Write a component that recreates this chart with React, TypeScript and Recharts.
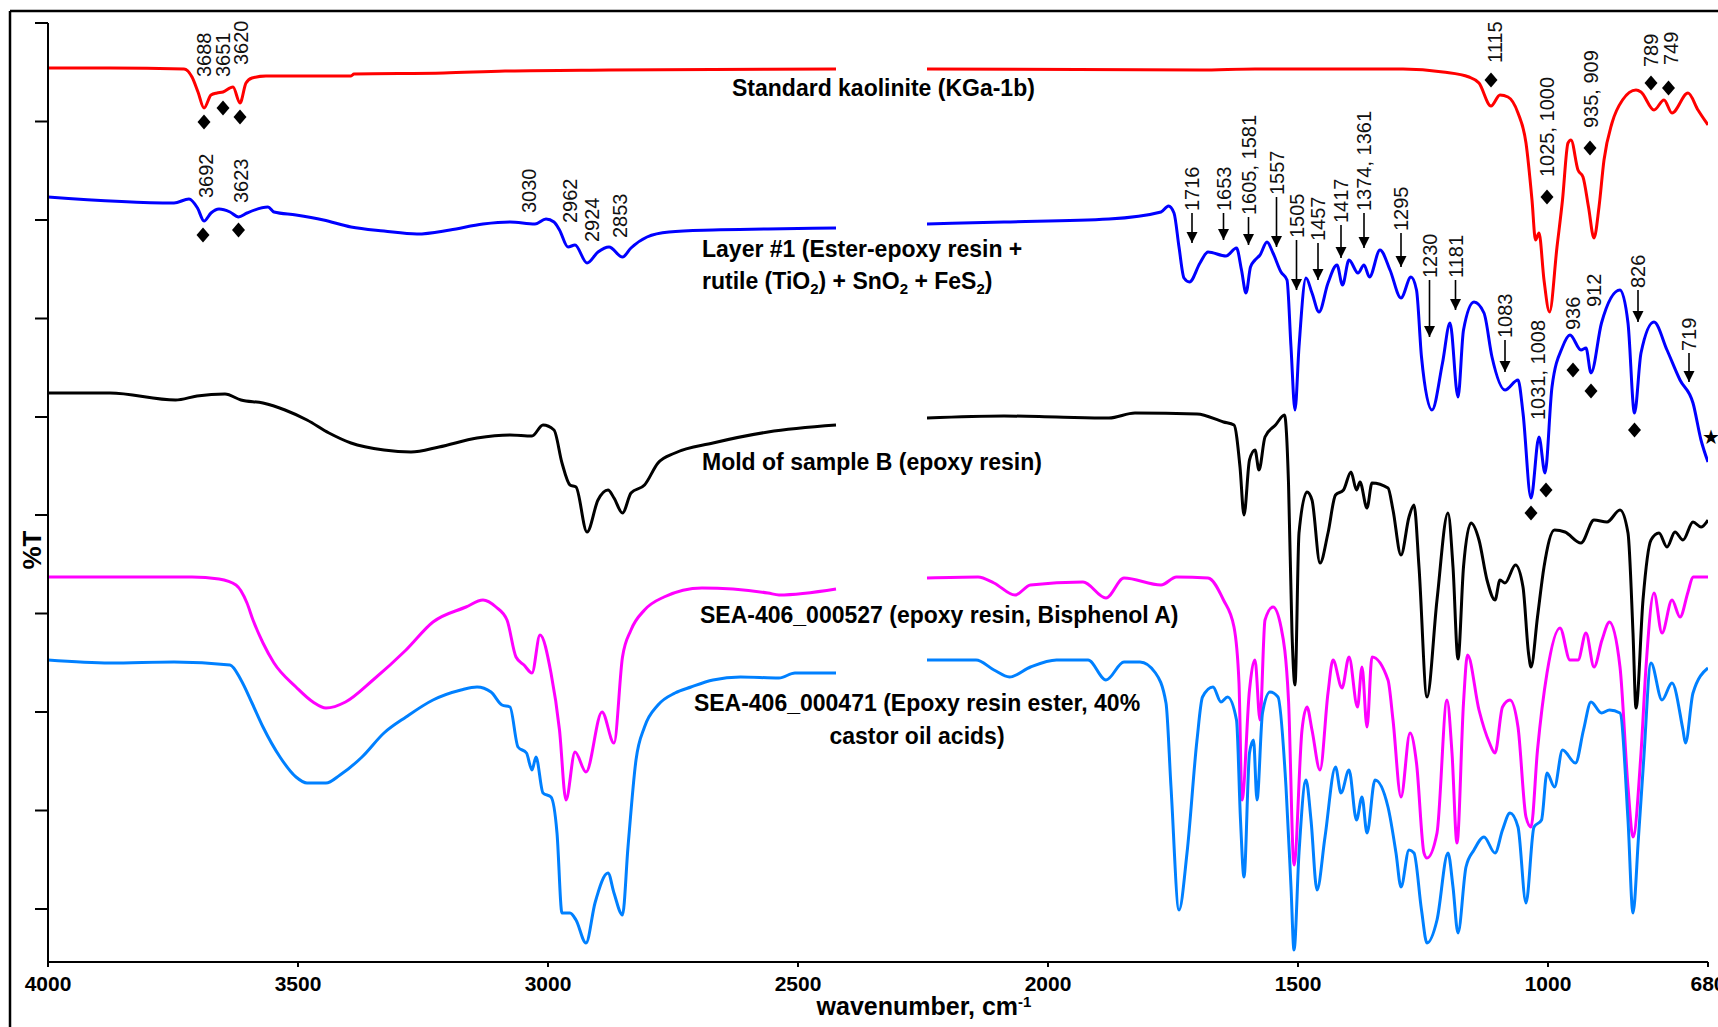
import React from 'react';
import { LineChart, Line, XAxis, YAxis, ReferenceDot, ReferenceLine } from 'recharts';

// FTIR spectra, stacked with offsets. Each spectrum is split in two pieces
// (the 2424-2242 cm-1 CO2 window is left out). Values: [wavenumber, %T offset]

type Pt = [number, number];

const xTicks = [4000, 3500, 3000, 2500, 2000, 1500, 1000, 680];
const yTicks = [53, 151.5, 250, 348.5, 447, 545, 643.5, 742, 840.5, 939];

const kaoliniteA: Pt[] = [
  [4000, 894], [3876, 894], [3728, 893], [3712, 885], [3700, 870], [3688, 854], [3674, 867],
  [3662, 869], [3650, 870], [3630, 875], [3616, 859], [3604, 879], [3592, 884], [3564, 886],
  [3394, 886], [3388, 888], [3208, 889], [3086, 891], [2878, 892], [2424, 893],
];
const kaoliniteB: Pt[] = [
  [2242, 893], [1696, 892], [1586, 893], [1290, 893], [1210, 890], [1158, 885], [1138, 879],
  [1114, 856], [1096, 867], [1080, 865], [1060, 849], [1044, 819], [1032, 762], [1025, 722],
  [1018, 729], [1008, 682], [997, 650], [982, 715], [971, 762], [960, 819], [954, 822],
  [940, 792], [930, 785], [919, 755], [908, 724], [898, 755], [888, 802], [872, 839],
  [851, 862], [824, 872], [814, 870], [788, 852], [768, 862], [752, 849], [720, 869],
  [700, 852], [680, 837],
];

const layerA: Pt[] = [
  [4000, 765], [3748, 759], [3718, 763], [3701, 754], [3688, 741], [3674, 749], [3658, 753],
  [3636, 750], [3619, 745], [3602, 749], [3560, 755], [3548, 750], [3504, 747], [3449, 742],
  [3394, 735], [3328, 731], [3262, 728], [3196, 732], [3130, 738], [3076, 740], [3026, 738],
  [3004, 743], [2988, 740], [2977, 732], [2960, 715], [2946, 717], [2922, 699], [2900, 710],
  [2878, 715], [2851, 705], [2834, 714], [2802, 725], [2758, 730], [2670, 732], [2560, 733],
  [2424, 734],
];
const layerB: Pt[] = [
  [2242, 738], [2088, 740], [1878, 743], [1774, 750], [1759, 756], [1748, 749], [1738, 715],
  [1728, 684], [1717, 680], [1696, 699], [1680, 710], [1644, 706], [1623, 714], [1613, 692],
  [1604, 669], [1595, 695], [1586, 702], [1576, 707], [1562, 720], [1550, 709], [1534, 690],
  [1522, 682], [1514, 615], [1506, 552], [1498, 615], [1484, 684], [1472, 669], [1458, 650],
  [1440, 679], [1422, 697], [1411, 677], [1398, 702], [1380, 689], [1368, 697], [1357, 685],
  [1336, 712], [1316, 692], [1294, 664], [1274, 685], [1263, 672], [1253, 605], [1232, 552],
  [1211, 599], [1196, 639], [1180, 565], [1169, 632], [1148, 660], [1128, 649], [1112, 605],
  [1086, 572], [1060, 582], [1050, 549], [1034, 464], [1018, 525], [1006, 489], [992, 575],
  [971, 615], [956, 627], [934, 612], [924, 614], [914, 589], [893, 639], [856, 672],
  [840, 639], [827, 549], [814, 609], [788, 640], [762, 612], [736, 582], [710, 559],
  [694, 522], [680, 500],
];

const moldA: Pt[] = [
  [4000, 569], [3876, 569], [3745, 562], [3702, 566], [3646, 568], [3614, 562], [3570, 559],
  [3526, 552], [3482, 542], [3438, 529], [3394, 519], [3328, 512], [3274, 510], [3218, 515],
  [3142, 524], [3076, 527], [3032, 526], [3010, 537], [2988, 532], [2972, 499], [2956, 477],
  [2944, 475], [2922, 430], [2900, 462], [2880, 472], [2868, 464], [2851, 449], [2834, 469],
  [2807, 477], [2780, 499], [2746, 509], [2670, 519], [2560, 530], [2424, 537],
];
const moldB: Pt[] = [
  [2242, 544], [2088, 546], [1983, 545], [1878, 544], [1826, 549], [1702, 548], [1649, 540],
  [1628, 537], [1616, 495], [1608, 447], [1597, 502], [1586, 512], [1578, 492], [1566, 525],
  [1545, 537], [1527, 547], [1519, 479], [1512, 329], [1506, 277], [1498, 429], [1482, 470],
  [1472, 462], [1456, 399], [1440, 429], [1425, 467], [1409, 472], [1394, 490], [1383, 472],
  [1376, 480], [1362, 454], [1352, 479], [1320, 474], [1310, 452], [1294, 407], [1278, 445],
  [1268, 457], [1258, 395], [1242, 265], [1222, 362], [1200, 449], [1190, 395], [1180, 303],
  [1169, 395], [1154, 439], [1138, 422], [1122, 382], [1106, 362], [1096, 382], [1086, 379],
  [1065, 397], [1050, 375], [1039, 309], [1034, 295], [1021, 345], [1008, 395], [987, 432],
  [966, 430], [934, 419], [908, 442], [882, 440], [856, 452], [840, 429], [830, 329],
  [824, 254], [810, 362], [794, 422], [778, 429], [762, 415], [746, 430], [730, 422],
  [710, 440], [694, 435], [680, 442],
];

const bpaA: Pt[] = [
  [4000, 385], [3712, 385], [3658, 383], [3624, 377], [3602, 359], [3590, 342], [3570, 319],
  [3548, 299], [3504, 275], [3470, 260], [3444, 254], [3405, 260], [3350, 282], [3284, 312],
  [3230, 340], [3164, 355], [3130, 362], [3104, 355], [3082, 342], [3064, 305], [3048, 297],
  [3032, 289], [3016, 327], [2994, 289], [2977, 232], [2964, 162], [2946, 210], [2924, 190],
  [2892, 250], [2868, 219], [2851, 305], [2834, 332], [2807, 352], [2768, 365], [2692, 374],
  [2560, 369], [2538, 367], [2424, 373],
];
const bpaB: Pt[] = [
  [2242, 384], [2140, 385], [2108, 379], [2066, 367], [2035, 377], [1930, 380], [1884, 364],
  [1848, 384], [1774, 377], [1743, 385], [1680, 384], [1649, 362], [1628, 335], [1618, 279],
  [1612, 162], [1597, 272], [1586, 302], [1576, 242], [1566, 342], [1550, 355], [1534, 335],
  [1519, 262], [1508, 97], [1492, 232], [1482, 255], [1472, 232], [1456, 192], [1440, 269],
  [1430, 302], [1412, 274], [1398, 305], [1381, 255], [1372, 295], [1362, 235], [1352, 305],
  [1320, 282], [1310, 242], [1294, 165], [1276, 229], [1263, 199], [1248, 109], [1242, 104],
  [1222, 129], [1202, 262], [1192, 209], [1182, 119], [1169, 259], [1161, 307], [1138, 252],
  [1117, 219], [1106, 209], [1091, 255], [1076, 262], [1060, 235], [1044, 145], [1034, 135],
  [1021, 212], [1002, 289], [976, 334], [956, 302], [940, 302], [924, 329], [908, 295],
  [892, 322], [877, 340], [856, 295], [840, 175], [830, 125], [814, 209], [804, 295],
  [788, 369], [772, 329], [752, 362], [736, 345], [720, 370], [710, 385], [680, 385],
];

const esterA: Pt[] = [
  [4000, 302], [3876, 299], [3748, 300], [3636, 297], [3614, 282], [3592, 259], [3570, 235],
  [3536, 205], [3504, 185], [3482, 179], [3444, 179], [3416, 187], [3372, 205], [3328, 229],
  [3284, 245], [3230, 262], [3174, 272], [3142, 275], [3114, 270], [3092, 257], [3076, 255],
  [3060, 215], [3043, 209], [3032, 192], [3024, 205], [3010, 169], [2994, 165], [2982, 129],
  [2972, 49], [2956, 49], [2944, 42], [2924, 19], [2906, 59], [2880, 89], [2868, 69],
  [2851, 47], [2840, 115], [2824, 202], [2807, 235], [2780, 257], [2746, 269], [2714, 275],
  [2670, 282], [2615, 285], [2538, 284], [2506, 289], [2424, 289],
];
const esterB: Pt[] = [
  [2242, 302], [2144, 302], [2108, 292], [2077, 285], [2035, 295], [1983, 302], [1920, 302],
  [1884, 282], [1848, 300], [1816, 300], [1785, 289], [1764, 259], [1754, 175], [1738, 52],
  [1722, 109], [1702, 222], [1691, 265], [1670, 275], [1654, 260], [1641, 265], [1623, 242],
  [1615, 142], [1608, 85], [1597, 209], [1589, 222], [1582, 162], [1571, 249], [1556, 270],
  [1540, 265], [1524, 175], [1514, 75], [1508, 12], [1498, 109], [1484, 182], [1474, 142],
  [1462, 72], [1446, 125], [1425, 195], [1414, 169], [1398, 192], [1383, 142], [1372, 165],
  [1362, 129], [1346, 182], [1320, 155], [1304, 109], [1294, 75], [1278, 112], [1268, 109],
  [1253, 52], [1242, 19], [1222, 42], [1200, 109], [1190, 75], [1180, 29], [1164, 95],
  [1148, 112], [1128, 125], [1106, 109], [1091, 132], [1076, 149], [1060, 135], [1044, 59],
  [1028, 135], [1013, 142], [1002, 189], [987, 175], [971, 212], [945, 199], [929, 232],
  [914, 260], [893, 249], [877, 252], [856, 249], [840, 142], [830, 49], [819, 125],
  [809, 199], [794, 299], [772, 262], [752, 279], [730, 232], [725, 219], [710, 269],
  [680, 294],
];

// rotated peak labels: [wavenumber, y at the foot of the text, text]
const peakTexts: [number, number, string][] = [
  [3688, 885, '3688'], [3650, 885, '3651'], [3614, 897, '3620'],
  [1106, 899, '1115'], [1002, 785, '1025, 1000'], [914, 834, '935, 909'],
  [794, 895, '789'], [754, 897, '749'],
  [3684, 764, '3692'], [3614, 759, '3623'], [3038, 749, '3030'], [2956, 739, '2962'],
  [2912, 720, '2924'], [2856, 724, '2853'],
  [1021, 542, '1031, 1008'], [950, 632, '936'], [908, 655, '912'],
];

// arrowed labels: [wavenumber, y where arrow starts, y of arrow tip, text]
const arrowTexts: [number, number, number, string][] = [
  [1712, 749, 719, '1716'], [1649, 749, 722, '1653'], [1599, 745, 717, '1605, 1581'],
  [1543, 765, 715, '1557'], [1503, 722, 672, '1505'], [1460, 719, 682, '1457'],
  [1414, 737, 704, '1417'], [1368, 749, 714, '1374, 1361'], [1294, 729, 695, '1295'],
  [1237, 682, 625, '1230'], [1185, 682, 652, '1181'], [1086, 622, 590, '1083'],
  [820, 672, 640, '826'], [718, 609, 580, '719'],
];

// kaolinite markers
const diamonds: Pt[] = [
  [3688, 840], [3650, 854], [3616, 845], [1114, 882], [1002, 765], [916, 814],
  [794, 879], [759, 874], [3690, 727], [3619, 732], [1034, 449], [1004, 472],
  [950, 592], [914, 571], [827, 532],
];
const stars: Pt[] = [[674, 525]];

const FONT = "'Liberation Sans', Arial, Helvetica, sans-serif";

function toSeries(a: Pt[], b: Pt[]) {
  return [
    ...a.map(([x, y]) => ({ x, y })),
    { x: 2333, y: null },
    ...b.map(([x, y]) => ({ x, y })),
  ];
}

const SERIES = [
  { key: 'kaolinite', color: '#FF0000', data: toSeries(kaoliniteA, kaoliniteB) },
  { key: 'layer', color: '#0000FF', data: toSeries(layerA, layerB) },
  { key: 'mold', color: '#000000', data: toSeries(moldA, moldB) },
  { key: 'bpa', color: '#FF00FF', data: toSeries(bpaA, bpaB) },
  { key: 'ester', color: '#0080FF', data: toSeries(esterA, esterB) },
];

function RotatedText({ cx, cy, text }: { cx?: number; cy?: number; text: string }) {
  if (cx == null || cy == null) return <g />;
  return (
    <text
      x={cx}
      y={cy}
      transform={`rotate(-90 ${cx} ${cy})`}
      textAnchor="start"
      dominantBaseline="central"
      fontFamily={FONT}
      fontSize={20}
      fill="#111"
    >
      {text}
    </text>
  );
}

function Diamond({ cx, cy }: { cx?: number; cy?: number }) {
  if (cx == null || cy == null) return <g />;
  return <polygon points={`${cx},${cy - 7.5} ${cx + 6.5},${cy} ${cx},${cy + 7.5} ${cx - 6.5},${cy}`} fill="#000" />;
}

function ArrowHead({ cx, cy }: { cx?: number; cy?: number }) {
  if (cx == null || cy == null) return <g />;
  return <polygon points={`${cx - 5.5},${cy - 11} ${cx + 5.5},${cy - 11} ${cx},${cy}`} fill="#000" />;
}

function Star({ cx, cy }: { cx?: number; cy?: number }) {
  if (cx == null || cy == null) return <g />;
  return (
    <text x={cx} y={cy} textAnchor="middle" dominantBaseline="central" fontFamily="'DejaVu Sans', sans-serif" fontSize={20} fill="#000">
      ★
    </text>
  );
}

export default function App() {
  const labelStyle = { fontFamily: FONT, fontWeight: 700, fontSize: 23, fill: '#000' } as const;
  const sub = { fontSize: 15 } as const;
  return (
    <div style={{ position: 'absolute', left: 0, top: 0, width: 1718, height: 1027, background: '#fff', overflow: 'hidden' }}>
      <LineChart width={1718} height={1027} margin={{ top: 23, right: 10, bottom: 25, left: 18 }}>
        <XAxis
          type="number"
          dataKey="x"
          domain={[680, 4000]}
          reversed
          allowDataOverflow
          ticks={xTicks}
          interval={0}
          height={40}
          tickSize={5}
          tickMargin={9}
          axisLine={{ stroke: '#000', strokeWidth: 2 }}
          tickLine={{ stroke: '#000', strokeWidth: 2 }}
          tick={{ fontFamily: FONT, fontSize: 21, fontWeight: 700, fill: '#000' }}
        />
        <YAxis
          type="number"
          domain={[0, 939]}
          ticks={yTicks}
          width={30}
          tickSize={13}
          tickFormatter={() => ''}
          axisLine={{ stroke: '#000', strokeWidth: 2 }}
          tickLine={{ stroke: '#000', strokeWidth: 2 }}
        />
        {SERIES.map((s) => (
          <Line
            key={s.key}
            data={s.data}
            dataKey="y"
            type="monotone"
            stroke={s.color}
            strokeWidth={3}
            dot={false}
            connectNulls={false}
            isAnimationActive={false}
          />
        ))}
        {arrowTexts.map(([x, y0, y1], i) => (
          <ReferenceLine
            key={`al-${i}`}
            segment={[{ x, y: y0 }, { x, y: y1 }]}
            stroke="#000"
            strokeWidth={1.6}
          />
        ))}
        {arrowTexts.map(([x, , y1], i) => (
          <ReferenceDot key={`ah-${i}`} x={x} y={y1} r={0} ifOverflow="visible" shape={(p: any) => <ArrowHead {...p} />} />
        ))}
        {arrowTexts.map(([x, y0, , t], i) => (
          <ReferenceDot key={`at-${i}`} x={x} y={y0 + 2} r={0} ifOverflow="visible" shape={(p: any) => <RotatedText {...p} text={t} />} />
        ))}
        {peakTexts.map(([x, y, t], i) => (
          <ReferenceDot key={`pt-${i}`} x={x} y={y} r={0} ifOverflow="visible" shape={(p: any) => <RotatedText {...p} text={t} />} />
        ))}
        {diamonds.map(([x, y], i) => (
          <ReferenceDot key={`dm-${i}`} x={x} y={y} r={0} ifOverflow="visible" shape={(p: any) => <Diamond {...p} />} />
        ))}
        {stars.map(([x, y], i) => (
          <ReferenceDot key={`st-${i}`} x={x} y={y} r={0} ifOverflow="visible" shape={(p: any) => <Star {...p} />} />
        ))}
      </LineChart>
      <svg
        width={1718}
        height={1027}
        style={{ position: 'absolute', left: 0, top: 0, pointerEvents: 'none' }}
      >
        <line x1={10} y1={11} x2={1718} y2={11} stroke="#000" strokeWidth={2.5} />
        <line x1={10} y1={11} x2={10} y2={1027} stroke="#000" strokeWidth={2.5} />
        <text x={732} y={96} {...labelStyle}>Standard kaolinite (KGa-1b)</text>
        <text x={702} y={257} {...labelStyle}>Layer #1 (Ester-epoxy resin +</text>
        <text x={702} y={289} {...labelStyle}>
          rutile (TiO<tspan {...sub} dy={5}>2</tspan><tspan dy={-5}>) + SnO</tspan>
          <tspan {...sub} dy={5}>2</tspan><tspan dy={-5}> + FeS</tspan>
          <tspan {...sub} dy={5}>2</tspan><tspan dy={-5}>)</tspan>
        </text>
        <text x={702} y={470} {...labelStyle}>Mold of sample B (epoxy resin)</text>
        <text x={700} y={623} {...labelStyle}>SEA-406_000527 (epoxy resin, Bisphenol A)</text>
        <text x={917} y={711} textAnchor="middle" {...labelStyle}>SEA-406_000471 (Epoxy resin ester, 40%</text>
        <text x={917} y={744} textAnchor="middle" {...labelStyle}>castor oil acids)</text>
        <text
          x={41}
          y={550}
          transform="rotate(-90 41 550)"
          textAnchor="middle"
          fontFamily={FONT}
          fontWeight={700}
          fontSize={26}
          fill="#000"
        >
          %T
        </text>
        <text x={924} y={1015} textAnchor="middle" fontFamily={FONT} fontWeight={700} fontSize={25} fill="#000">
          wavenumber, cm<tspan fontSize={15} dy={-8}>-1</tspan>
        </text>
      </svg>
    </div>
  );
}
